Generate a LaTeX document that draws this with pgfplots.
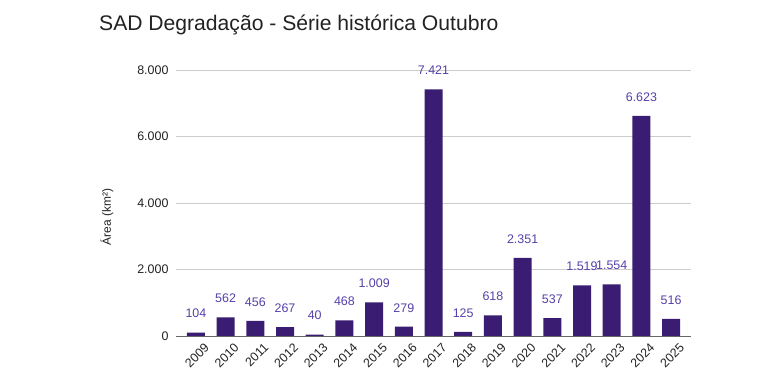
\documentclass[border=0pt]{standalone}
\usepackage{pgfplots}
\pgfplotsset{compat=1.18}
\usepackage{fontspec}
\setmainfont{Liberation Sans}
\definecolor{barc}{HTML}{3A1D72}
\definecolor{labc}{HTML}{5640A8}
\definecolor{gridc}{HTML}{CCCCCC}
\definecolor{txtc}{HTML}{222222}
\begin{document}
\begin{tikzpicture}
\path[use as bounding box] (0,0) rectangle (781bp,387bp);
\node[anchor=west, font=\fontsize{21.2}{25}\selectfont, text=txtc, inner sep=0pt] at (99bp,362bp) {SAD Degradação - Série histórica Outubro};
\node[rotate=90, font=\fontsize{12}{14}\selectfont, text=txtc, inner sep=0pt] at (107bp,170bp) {Área (km²)};
\begin{axis}[
  at={(176bp,51bp)}, anchor=south west,
  scale only axis, width=515bp, height=266bp,
  xmin=-0.67, xmax=16.67, ymin=0, ymax=8000,
  ybar, bar width=18bp, clip=false,
  axis line style={draw=none},
  axis x line*=bottom,
  ytick={0,2000,4000,6000,8000},
  ymajorgrids, grid style={gridc, line width=0.8pt},
  major tick length=0pt,
  xtick={0,...,16},
  xticklabels={2009,2010,2011,2012,2013,2014,2015,2016,2017,2018,2019,2020,2021,2022,2023,2024,2025},
  x tick label style={rotate=45, anchor=north east, font=\fontsize{12.5}{14}\selectfont, text=txtc, inner sep=0pt, xshift=1bp, yshift=-10bp},
  y tick label style={font=\fontsize{12.5}{14}\selectfont, text=txtc, xshift=-4bp},
  /pgf/number format/assume math mode=true,
  /pgf/number format/1000 sep={.},
  scaled y ticks=false,
  nodes near coords,
  nodes near coords style={font=\fontsize{12.5}{14}\selectfont, text=labc, anchor=center, yshift=19bp, /pgf/number format/1000 sep={.}, /pgf/number format/assume math mode=true},
]
\addplot[fill=barc, draw=none] coordinates {
(0,104) (1,562) (2,456) (3,267) (4,40) (5,468) (6,1009) (7,279) (8,7421) (9,125) (10,618) (11,2351) (12,537) (13,1519) (14,1554) (15,6623) (16,516)
};
\draw[gray!80!black, line width=0.8pt] (axis cs:-0.67,0) -- (axis cs:16.67,0);
\end{axis}
\end{tikzpicture}
\end{document}
